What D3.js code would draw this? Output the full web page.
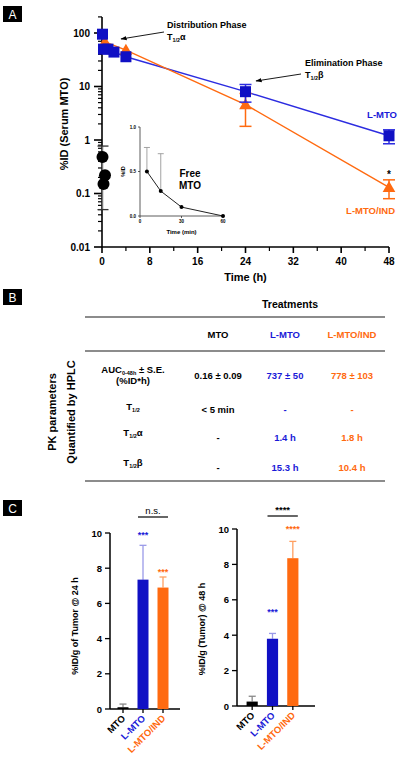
<!DOCTYPE html>
<html><head><meta charset="utf-8">
<script src="https://cdn.jsdelivr.net/npm/d3@7"></script>
<style>body{margin:0;background:#fff}svg{display:block;font-family:"Liberation Sans",Arial,sans-serif}</style>
</head><body><svg id="c" width="402" height="759"></svg>
<script>
// ---------- DATA ----------
const lmtoTimes = [0.083, 0.25, 1, 2, 4, 24, 48];
const lmtoValues = [95, 50, 50, 44, 36, 8, 1.2];
const lmtoErr = [0, 0, 0, 0, 0, 2.9, 0.35];
const indTimes = [0.5, 4, 24, 48];
const indValues = [68, 48, 4.6, 0.13];
const indErr = [0, 0, 2.8, 0.05];
const freeTimesH = [0.083, 0.5, 0.25];
const freeValues = [0.48, 0.22, 0.15];
const freeErrRange = [0.05, 0.77];
const logTicks = [0.01, 0.1, 1, 10, 100];
const logTickLabels = ["0.01", "0.1", "1", "10", "100"];
const timeTicks = [0, 8, 16, 24, 32, 40, 48];
const insetTimes = [5, 15, 30, 60];
const insetValues = [0.5, 0.28, 0.1, 0.0];
const insetErr = [0.27, 0.42, 0, 0];
const insetXTicks = [0, 30, 60];
const insetYTicks = [0, 0.5, 1.0];

const tableCols = ["MTO", "L-MTO", "L-MTO/IND"];
const aucValues = ["0.16 ± 0.09", "737 ± 50", "778 ± 103"];
const halfValues = ["< 5 min", "-", "-"];
const alphaValues = ["-", "1.4 h", "1.8 h"];
const betaValues = ["-", "15.3 h", "10.4 h"];

const barCats = ["MTO", "L-MTO", "L-MTO/IND"];
const tumor24 = [0.1, 7.35, 6.9];
const tumor24Err = [0.18, 1.95, 0.6];
const tumor48 = [0.25, 3.8, 8.35];
const tumor48Err = [0.3, 0.3, 0.95];
const stars24 = ["", "***", "***"];
const stars24Level = [0, 10.0, 7.9];
const stars48 = ["", "***", "****"];
const stars48Level = [0, 5.4, 10.1];
const barTicks = [0, 2, 4, 6, 8, 10];

// ---------- STYLE ----------
const BLUE = "#1010c4", BLUE_L = "#2c2ce0", BLUE_ERR = "#9a9ae8";
const ORANGE = "#ff6a10", ORANGE_ERR = "#ff9f60";
const catColor = ["#000", BLUE, ORANGE];
const errColor = ["#888", BLUE_ERR, ORANGE_ERR];
const textColor = ["#000", "#1a1ad8", "#ff6a10"];

const svg = d3.select("#c");

function panelLabel(x, y, t) {
  svg.append("rect").attr("x", x).attr("y", y).attr("width", 19).attr("height", 16).attr("fill", "#000");
  svg.append("text").attr("x", x + 9.5).attr("y", y + 12.5).attr("text-anchor", "middle")
    .attr("fill", "#fff").attr("font-size", 12).text(t);
}
panelLabel(3, 6, "A");
panelLabel(3, 289, "B");
panelLabel(3, 500, "C");

// ---------- PANEL A ----------
const x = d3.scaleLinear().domain([0, 48]).range([102, 389]);
const y = d3.scaleLog().domain([0.01, 200]).range([247, 247 - 53.5 * Math.log10(20000)]);
const gA = svg.append("g");

// y axis
gA.append("line").attr("x1", 102).attr("x2", 102).attr("y1", y(200)).attr("y2", 247)
  .attr("stroke", "#000").attr("stroke-width", 1.6);
const minor = [];
[0.01, 0.1, 1, 10, 100].forEach(d => { for (let k = 2; k <= 9; k++) if (d * k <= 200) minor.push(d * k); });
gA.selectAll(".ymin").data(minor).join("line").attr("x1", 98).attr("x2", 102)
  .attr("y1", d => y(d)).attr("y2", d => y(d)).attr("stroke", "#000").attr("stroke-width", 1.2);
gA.selectAll(".ymaj").data(logTicks).join("line").attr("x1", 94).attr("x2", 102)
  .attr("y1", d => y(d)).attr("y2", d => y(d)).attr("stroke", "#000").attr("stroke-width", 1.6);
gA.selectAll(".ylab").data(logTicks).join("text").attr("x", 90).attr("y", d => y(d) + 3.5)
  .attr("text-anchor", "end").attr("font-size", 10).attr("font-weight", "bold")
  .text((d, i) => logTickLabels[i]);
// x axis
gA.append("line").attr("x1", 102).attr("x2", 389).attr("y1", 247).attr("y2", 247)
  .attr("stroke", "#000").attr("stroke-width", 1.6);
gA.selectAll(".xmin").data(d3.range(4, 48, 8)).join("line").attr("x1", d => x(d)).attr("x2", d => x(d))
  .attr("y1", 247).attr("y2", 251).attr("stroke", "#000").attr("stroke-width", 1.2);
gA.selectAll(".xmaj").data(timeTicks).join("line").attr("x1", d => x(d)).attr("x2", d => x(d))
  .attr("y1", 247).attr("y2", 253).attr("stroke", "#000").attr("stroke-width", 1.6);
gA.selectAll(".xlab").data(timeTicks).join("text").attr("x", d => x(d)).attr("y", 265)
  .attr("text-anchor", "middle").attr("font-size", 10).attr("font-weight", "bold").text(d => d);
gA.append("text").attr("x", x(24)).attr("y", 281).attr("text-anchor", "middle")
  .attr("font-size", 11).attr("font-weight", "bold").text("Time (h)");
gA.append("text").attr("transform", `translate(68,124) rotate(-90)`).attr("text-anchor", "middle")
  .attr("font-size", 11).attr("font-weight", "bold").text("%ID (Serum MTO)");

// free MTO (log scale) error + circles
gA.append("line").attr("x1", x(0.083)).attr("x2", x(0.083)).attr("y1", y(freeErrRange[0])).attr("y2", y(freeErrRange[1]))
  .attr("stroke", "#777").attr("stroke-width", 1.5);
freeErrRange.forEach(v => gA.append("line").attr("x1", x(0.083) - 5).attr("x2", x(0.083) + 6)
  .attr("y1", y(v)).attr("y2", y(v)).attr("stroke", "#333").attr("stroke-width", 1.3));
gA.selectAll(".free").data(freeTimesH).join("circle").attr("cx", d => x(d)).attr("cy", (d, i) => y(freeValues[i]))
  .attr("r", 6).attr("fill", "#000");

// lines
const lineGen = d3.line().x(d => x(d[0])).y(d => y(d[1]));
gA.append("path").attr("d", lineGen(lmtoTimes.map((t, i) => [t, lmtoValues[i]])))
  .attr("fill", "none").attr("stroke", BLUE_L).attr("stroke-width", 1.4);
gA.append("path").attr("d", lineGen(indTimes.map((t, i) => [t, indValues[i]])))
  .attr("fill", "none").attr("stroke", ORANGE).attr("stroke-width", 1.4);

function errBars(times, vals, errs, color) {
  times.forEach((t, i) => {
    if (!errs[i]) return;
    const lo = vals[i] - errs[i], hi = vals[i] + errs[i];
    gA.append("line").attr("x1", x(t)).attr("x2", x(t)).attr("y1", y(lo)).attr("y2", y(hi))
      .attr("stroke", color).attr("stroke-width", 1.5);
    [lo, hi].forEach(v => gA.append("line").attr("x1", x(t) - 6).attr("x2", x(t) + 6)
      .attr("y1", y(v)).attr("y2", y(v)).attr("stroke", color).attr("stroke-width", 1.5));
  });
}
errBars(indTimes, indValues, indErr, ORANGE);
gA.selectAll(".tri").data(indTimes).join("path")
  .attr("d", d3.symbol().type(d3.symbolTriangle).size(70))
  .attr("transform", (d, i) => `translate(${x(d)},${y(indValues[i]) + 1})`).attr("fill", ORANGE);
errBars(lmtoTimes, lmtoValues, lmtoErr, BLUE_L);
gA.selectAll(".sq").data(lmtoTimes).join("rect")
  .attr("x", d => x(d) - 5.5).attr("y", (d, i) => y(lmtoValues[i]) - 5.5)
  .attr("width", 11).attr("height", 11).attr("fill", BLUE);

// labels
gA.append("text").attr("x", 397).attr("y", 118).attr("text-anchor", "end").attr("font-size", 9.5)
  .attr("font-weight", "bold").attr("fill", "#1a1ad8").text("L-MTO");
gA.append("text").attr("x", 395).attr("y", 214).attr("text-anchor", "end").attr("font-size", 9.5)
  .attr("font-weight", "bold").attr("fill", ORANGE).text("L-MTO/IND");
gA.append("text").attr("x", x(48)).attr("y", 178).attr("text-anchor", "middle").attr("font-size", 10)
  .attr("font-weight", "bold").text("*");

// annotations
const defs = svg.append("defs");
defs.append("marker").attr("id", "arr").attr("viewBox", "0 0 10 10").attr("refX", 9).attr("refY", 5)
  .attr("markerWidth", 7).attr("markerHeight", 7).attr("orient", "auto")
  .append("path").attr("d", "M0,1.5 L10,5 L0,8.5 Z").attr("fill", "#000");
function sub(x0, y0, main, subt, tail, fs) {
  const tx = gA.append("text").attr("x", x0).attr("y", y0).attr("font-size", fs).attr("font-weight", "bold");
  tx.append("tspan").text(main);
  tx.append("tspan").attr("font-size", fs * 0.6).attr("dy", 2).text(subt);
  tx.append("tspan").attr("dy", -2).text(tail);
  return tx;
}
gA.append("text").attr("x", 167).attr("y", 28).attr("font-size", 9).attr("font-weight", "bold").text("Distribution Phase");
sub(167, 40, "T", "1/2", "α", 9);
gA.append("line").attr("x1", 164).attr("y1", 32).attr("x2", 121).attr("y2", 39)
  .attr("stroke", "#000").attr("stroke-width", 0.9).attr("marker-end", "url(#arr)");
gA.append("text").attr("x", 305).attr("y", 66).attr("font-size", 9).attr("font-weight", "bold").text("Elimination Phase");
sub(305, 78, "T", "1/2", "β", 9);
gA.append("line").attr("x1", 301).attr("y1", 74).attr("x2", 256).attr("y2", 81)
  .attr("stroke", "#000").attr("stroke-width", 0.9).attr("marker-end", "url(#arr)");

// inset
const ix = d3.scaleLinear().domain([0, 60]).range([140, 223]);
const iy = d3.scaleLinear().domain([0, 1]).range([216, 127]);
const gI = svg.append("g");
gI.append("line").attr("x1", 140).attr("x2", 140).attr("y1", iy(1)).attr("y2", iy(0)).attr("stroke", "#333").attr("stroke-width", 0.8);
gI.append("line").attr("x1", 140).attr("x2", 223).attr("y1", iy(0)).attr("y2", iy(0)).attr("stroke", "#333").attr("stroke-width", 0.8);
gI.selectAll(".iyt").data(insetYTicks).join("line").attr("x1", 138).attr("x2", 140)
  .attr("y1", d => iy(d)).attr("y2", d => iy(d)).attr("stroke", "#333").attr("stroke-width", 0.8);
gI.selectAll(".iyl").data(insetYTicks).join("text").attr("x", 136).attr("y", d => iy(d) + 1.8)
  .attr("text-anchor", "end").attr("font-size", 4.5).attr("font-weight", "bold").text(d => d.toFixed(1));
gI.selectAll(".ixt").data(insetXTicks).join("line").attr("x1", d => ix(d)).attr("x2", d => ix(d))
  .attr("y1", 216).attr("y2", 218).attr("stroke", "#333").attr("stroke-width", 0.8);
gI.selectAll(".ixl").data(insetXTicks).join("text").attr("x", d => ix(d)).attr("y", 223)
  .attr("text-anchor", "middle").attr("font-size", 4.5).attr("font-weight", "bold").text(d => d);
gI.append("text").attr("x", ix(30)).attr("y", 234).attr("text-anchor", "middle").attr("font-size", 6)
  .attr("font-weight", "bold").text("Time (min)");
gI.append("text").attr("transform", `translate(125,${iy(0.5)}) rotate(-90)`).attr("text-anchor", "middle")
  .attr("font-size", 5.5).attr("font-weight", "bold").text("%ID");
insetTimes.forEach((t, i) => {
  if (!insetErr[i]) return;
  const hi = insetValues[i] + insetErr[i];
  gI.append("line").attr("x1", ix(t)).attr("x2", ix(t)).attr("y1", iy(insetValues[i])).attr("y2", iy(hi)).attr("stroke", "#999").attr("stroke-width", 0.9);
  gI.append("line").attr("x1", ix(t) - 3).attr("x2", ix(t) + 3).attr("y1", iy(hi)).attr("y2", iy(hi)).attr("stroke", "#999").attr("stroke-width", 0.9);
});
gI.append("path").attr("d", d3.line().x(d => ix(d)).y((d, i) => iy(insetValues[i]))(insetTimes))
  .attr("fill", "none").attr("stroke", "#222").attr("stroke-width", 1);
gI.selectAll(".ip").data(insetTimes).join("circle").attr("cx", d => ix(d)).attr("cy", (d, i) => iy(insetValues[i]))
  .attr("r", 2).attr("fill", "#000");
gI.append("text").attr("x", 190).attr("y", 177).attr("text-anchor", "middle").attr("font-size", 10).attr("font-weight", "bold").text("Free");
gI.append("text").attr("x", 190).attr("y", 189).attr("text-anchor", "middle").attr("font-size", 10).attr("font-weight", "bold").text("MTO");

// ---------- PANEL B ----------
const gB = svg.append("g").attr("font-weight", "bold");
gB.append("text").attr("x", 290).attr("y", 308).attr("text-anchor", "middle").attr("font-size", 10.5).text("Treatments");
[317, 351, 481].forEach(yy => gB.append("line").attr("x1", 85).attr("x2", 385).attr("y1", yy).attr("y2", yy)
  .attr("stroke", "#666").attr("stroke-width", 1.5));
const colX = d3.scalePoint().domain(tableCols).range([218, 352]);
gB.selectAll(".hd").data(tableCols).join("text").attr("x", d => colX(d)).attr("y", 338)
  .attr("text-anchor", "middle").attr("font-size", 9.5).attr("fill", (d, i) => textColor[i]).text(d => d);
function rowLabel(yy, main, subt, tail) {
  const t = gB.append("text").attr("x", 133).attr("y", yy).attr("text-anchor", "middle").attr("font-size", 9.5);
  t.append("tspan").text(main);
  t.append("tspan").attr("font-size", 5.5).attr("dy", 2).text(subt);
  t.append("tspan").attr("dy", -2).text(tail);
}
rowLabel(373, "AUC", "0-48h", " ± S.E.");
gB.append("text").attr("x", 133).attr("y", 384).attr("text-anchor", "middle").attr("font-size", 9.5).text("(%ID*h)");
rowLabel(410, "T", "1/2", "");
rowLabel(436, "T", "1/2", "α");
rowLabel(466, "T", "1/2", "β");
[[aucValues, 379], [halfValues, 413], [alphaValues, 441], [betaValues, 471]].forEach(([vals, yy]) => {
  gB.selectAll(null).data(vals).join("text").attr("x", (d, i) => colX(tableCols[i])).attr("y", yy)
    .attr("text-anchor", "middle").attr("font-size", 9.5).attr("fill", (d, i) => textColor[i]).text(d => d);
});
gB.append("text").attr("transform", "translate(56,412) rotate(-90)").attr("text-anchor", "middle").attr("font-size", 11).text("PK parameters");
gB.append("text").attr("transform", "translate(75,412) rotate(-90)").attr("text-anchor", "middle").attr("font-size", 11).text("Quantified by HPLC");

// ---------- PANEL C ----------
function barChart(axisX, axisRight, y0, y10, rangeX, vals, errs, stars, starLevels, ylabel, labelX, labelY, sig, sigY) {
  const g = svg.append("g");
  const xb = d3.scaleBand().domain(barCats).range(rangeX).paddingInner(0.45).paddingOuter(0.225);
  const yb = d3.scaleLinear().domain([0, 10]).range([y0, y10]);
  g.append("line").attr("x1", axisX).attr("x2", axisX).attr("y1", yb(10)).attr("y2", yb(0)).attr("stroke", "#000").attr("stroke-width", 1.5);
  g.append("line").attr("x1", axisX).attr("x2", axisRight).attr("y1", yb(0)).attr("y2", yb(0)).attr("stroke", "#000").attr("stroke-width", 1.5);
  g.selectAll(".yt").data(barTicks).join("line").attr("x1", axisX - 5).attr("x2", axisX)
    .attr("y1", d => yb(d)).attr("y2", d => yb(d)).attr("stroke", "#000").attr("stroke-width", 1.3);
  g.selectAll(".yl").data(barTicks).join("text").attr("x", axisX - 8).attr("y", d => yb(d) + 3.5)
    .attr("text-anchor", "end").attr("font-size", 9.5).attr("font-weight", "bold").text(d => d);
  g.selectAll(".xt").data(barCats).join("line").attr("x1", d => xb(d) + xb.bandwidth() / 2).attr("x2", d => xb(d) + xb.bandwidth() / 2)
    .attr("y1", yb(0)).attr("y2", yb(0) + 4).attr("stroke", "#000").attr("stroke-width", 1.3);
  barCats.forEach((c, i) => {
    const cx = xb(c) + xb.bandwidth() / 2, top = vals[i] + errs[i];
    g.append("line").attr("x1", cx).attr("x2", cx).attr("y1", yb(vals[i])).attr("y2", yb(top)).attr("stroke", errColor[i]).attr("stroke-width", 1.3);
    g.append("line").attr("x1", cx - 3.5).attr("x2", cx + 3.5).attr("y1", yb(top)).attr("y2", yb(top)).attr("stroke", errColor[i]).attr("stroke-width", 1.3);
  });
  g.selectAll(".bar").data(barCats).join("rect").attr("x", d => xb(d)).attr("width", xb.bandwidth())
    .attr("y", (d, i) => yb(vals[i])).attr("height", (d, i) => yb(0) - yb(vals[i])).attr("fill", (d, i) => catColor[i]);
  g.selectAll(".st").data(barCats).join("text").attr("x", d => xb(d) + xb.bandwidth() / 2).attr("y", (d, i) => yb(starLevels[i]) + 5)
    .attr("text-anchor", "middle").attr("font-size", 9).attr("font-weight", "bold").attr("fill", (d, i) => textColor[i]).text((d, i) => stars[i]);
  g.selectAll(".xl").data(barCats).join("text")
    .attr("transform", d => `translate(${xb(d) + xb.bandwidth() / 2 + 3},${yb(0) + 10}) rotate(-45)`)
    .attr("text-anchor", "end").attr("font-size", 9.5).attr("font-weight", "bold").attr("fill", (d, i) => textColor[i]).text(d => d);
  g.append("text").attr("transform", `translate(${labelX},${labelY}) rotate(-90)`).attr("text-anchor", "middle")
    .attr("font-size", 9).attr("font-weight", "bold").text(ylabel);
  const c1 = xb("L-MTO") + xb.bandwidth() / 2 - 5, c2 = xb("L-MTO/IND") + xb.bandwidth() / 2 + 5;
  g.append("line").attr("x1", c1).attr("x2", c2).attr("y1", sigY).attr("y2", sigY).attr("stroke", "#000").attr("stroke-width", 1.2);
  g.append("text").attr("x", (c1 + c2) / 2).attr("y", sigY - 3).attr("text-anchor", "middle").attr("font-size", 9.5)
    .attr("font-weight", sig === "n.s." ? "normal" : "bold").text(sig);
}
barChart(110, 180, 709, 533, [113, 173], tumor24, tumor24Err, stars24, stars24Level, "%ID/g of Tumor @ 24 h", 78, 626, "n.s.", 517);
barChart(237, 315, 706, 529, [242, 303], tumor48, tumor48Err, stars48, stars48Level, "%ID/g (Tumor) @ 48 h", 205, 629, "****", 516);
</script></body></html>
